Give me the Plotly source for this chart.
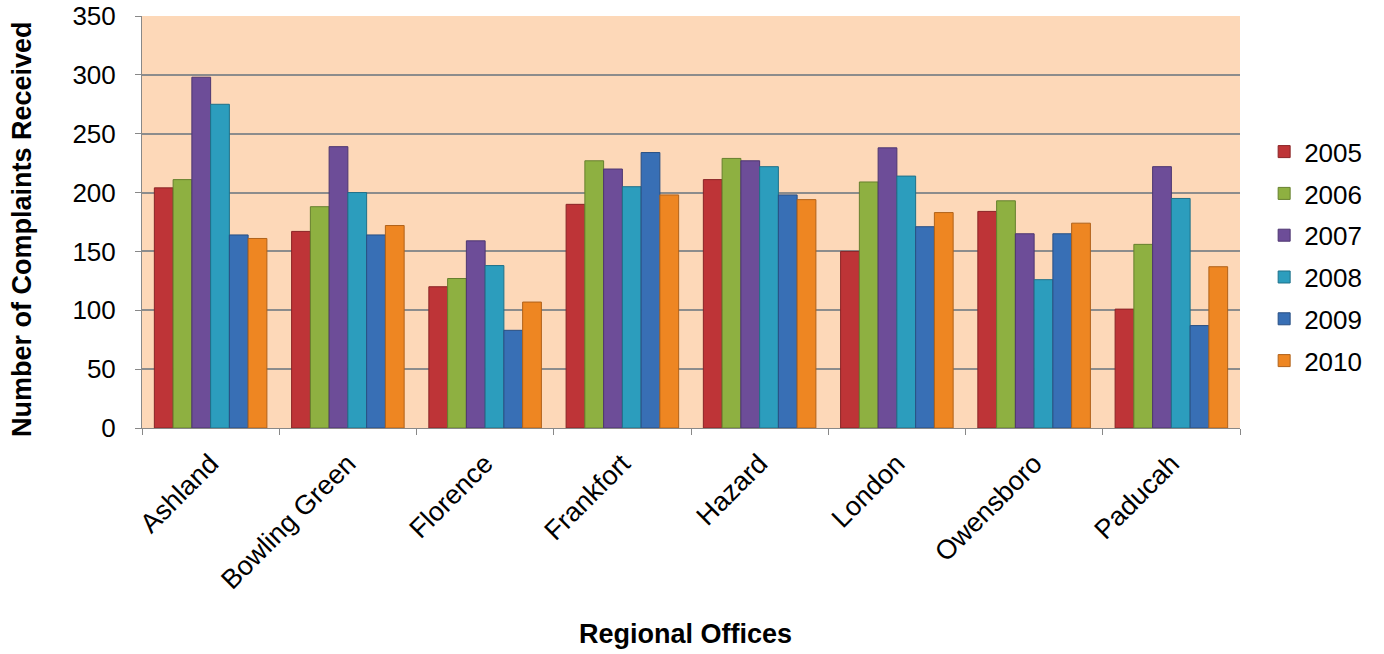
import plotly.graph_objects as go

offices = ["Ashland", "Bowling Green", "Florence", "Frankfort", "Hazard", "London", "Owensboro", "Paducah"]
years = ["2005", "2006", "2007", "2008", "2009", "2010"]
v2005 = [204, 167, 120, 190, 211, 150, 184, 101]
v2006 = [211, 188, 127, 227, 229, 209, 193, 156]
v2007 = [298, 239, 159, 220, 227, 238, 165, 222]
v2008 = [275, 200, 138, 205, 222, 214, 126, 195]
v2009 = [164, 164, 83, 234, 198, 171, 165, 87]
v2010 = [161, 172, 107, 198, 194, 183, 174, 137]
series = [v2005, v2006, v2007, v2008, v2009, v2010]
colors = ["#BE3437", "#8EB041", "#6D4D98", "#2C9DBD", "#386FB5", "#EE8622"]
edge = ["#8A2426", "#66802E", "#4D3670", "#1F7189", "#284F83", "#B0621A"]

fig = go.Figure()
for y, vals, c, e in zip(years, series, colors, edge):
    fig.add_trace(go.Bar(x=offices, y=vals, name=y, marker=dict(color=c, line=dict(color=e, width=1)),
                         legendgroup=y))

fig.update_layout(
    width=1384, height=654,
    margin=dict(l=142, r=144, t=16, b=226),
    paper_bgcolor="white", plot_bgcolor="#FDD8B8",
    font=dict(family="Liberation Sans, Arial, sans-serif", size=26, color="black"),
    barmode="group", bargap=0.18, bargroupgap=0.0,
    legend=dict(x=1.022, y=0.417, yanchor="middle", xanchor="left", font=dict(size=26),
                tracegroupgap=5, itemwidth=30, traceorder="grouped"),
    showlegend=True,
    annotations=[
        dict(text="<b>Regional Offices</b>", xref="paper", yref="paper", x=0.495, y=-0.5,
             xanchor="center", yanchor="middle", showarrow=False, font=dict(size=27)),
        dict(text="<b>Number of Complaints Received</b>", xref="paper", yref="paper",
             x=0, y=0.483, xanchor="center", yanchor="middle", textangle=-90, showarrow=False,
             font=dict(size=27), xshift=-120),
    ],
)
fig.update_xaxes(
    tickangle=-45, showline=True, linecolor="#888888", linewidth=1, automargin=False,
    ticks="outside", tickson="boundaries", ticklen=6, tickcolor="#888888",
    tickfont=dict(size=27), ticklabelstandoff=8,
)
fig.update_yaxes(
    range=[0, 350], dtick=50, showline=True, linecolor="#888888", linewidth=1, automargin=False,
    ticks="outside", ticklen=6, tickcolor="#888888", ticklabelstandoff=14,
    showgrid=True, gridcolor="#8C8C8C", gridwidth=1.5, zeroline=False,
)
fig.write_html("out.html")
